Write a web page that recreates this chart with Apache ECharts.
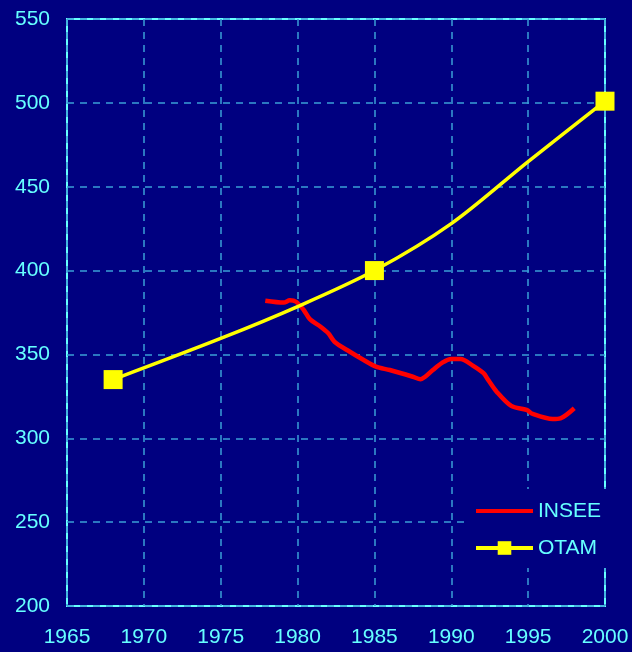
<!DOCTYPE html>
<html>
<head>
<meta charset="utf-8">
<script src="https://cdn.jsdelivr.net/npm/echarts@6/dist/echarts.min.js"></script>
<style>
  html, body { margin: 0; padding: 0; background: #000080; }
  #chart { width: 632px; height: 652px; }
</style>
</head>
<body>
<div id="chart"></div>
<script>
// INSEE estimates (year, value)
var inseeYears = [1977.9, 1979.1, 1979.5, 1979.9, 1980.4, 1980.8, 1981.5, 1982.0, 1982.4, 1983.4, 1984.3, 1985.1,
                  1986.0, 1987.5, 1988.0, 1988.3, 1988.8, 1989.4, 1990.0, 1990.6, 1991.4, 1992.1, 1992.4, 1992.95,
                  1993.9, 1994.9, 1995.3, 1996.6, 1997.1, 1998.0];
var inseeValues = [382.0, 380.9, 382.3, 381.4, 376.5, 371.0, 366.5, 362.6, 357.6, 351.6, 346.7, 342.7,
                   340.7, 336.7, 335.2, 336.7, 340.7, 345.0, 347.3, 347.3, 343.3, 338.8, 334.8, 327.8,
                   319.3, 316.9, 314.5, 311.5, 311.9, 317.9];
// OTAM curve; markers only at survey years
var otamYears = [1968, 1975, 1980, 1985, 1990, 1995, 2000];
var otamValues = [335, 359.5, 378.5, 400, 428, 465, 501];
var otamMarked = [1968, 1985, 2000];

var textColor = '#66ffff';
var gridColor = '#3a9fd6';
var font = 'Liberation Sans, Arial';

var inseeData = inseeYears.map(function (y, i) { return [y, inseeValues[i]]; });
var otamData = otamYears.map(function (y, i) {
    var item = { value: [y, otamValues[i]] };
    if (otamMarked.indexOf(y) < 0) item.symbol = 'none';
    return item;
});

var chart = echarts.init(document.getElementById('chart'));
chart.setOption({
    backgroundColor: '#000080',
    animation: false,
    grid: {
        left: 67, right: 27, top: 19, bottom: 46,
        show: true, borderColor: textColor, borderWidth: 2
    },
    xAxis: {
        type: 'value', min: 1965, max: 2000, interval: 5,
        axisLine: { show: false }, axisTick: { show: false },
        axisLabel: {
            color: textColor, fontSize: 21, fontFamily: font, margin: 21,
            formatter: function (v) { return String(v); }
        },
        splitLine: { show: true, lineStyle: { color: gridColor, width: 1.5, type: [7, 6] } }
    },
    yAxis: {
        type: 'value', min: 200, max: 550, interval: 50,
        axisLine: { show: false }, axisTick: { show: false },
        axisLabel: { color: textColor, fontSize: 21, fontFamily: font, margin: 17 },
        splitLine: { show: true, lineStyle: { color: gridColor, width: 1.5, type: [7, 6] } }
    },
    legend: {
        orient: 'vertical',
        left: 470, top: 489,
        padding: [10, 14, 8, 4],
        itemGap: 13,
        itemWidth: 57, itemHeight: 17,
        backgroundColor: '#000080',
        textStyle: { color: textColor, fontSize: 21, fontFamily: font, lineHeight: 24 },
        data: [
            { name: 'INSEE', itemStyle: { opacity: 0 }, lineStyle: { width: 4 } },
            { name: 'OTAM', lineStyle: { width: 4 } }
        ]
    },
    series: [
        {
            name: 'INSEE', type: 'line', data: inseeData,
            smooth: 0.3, symbol: 'none',
            lineStyle: { color: '#ff0000', width: 4.5 },
            itemStyle: { color: '#ff0000' }
        },
        {
            name: 'OTAM', type: 'line', data: otamData,
            smooth: 0.3, symbol: 'rect', symbolSize: 19, showAllSymbol: true,
            lineStyle: { color: '#ffff00', width: 3.5 },
            itemStyle: { color: '#ffff00' }
        }
    ]
});
</script>
</body>
</html>
